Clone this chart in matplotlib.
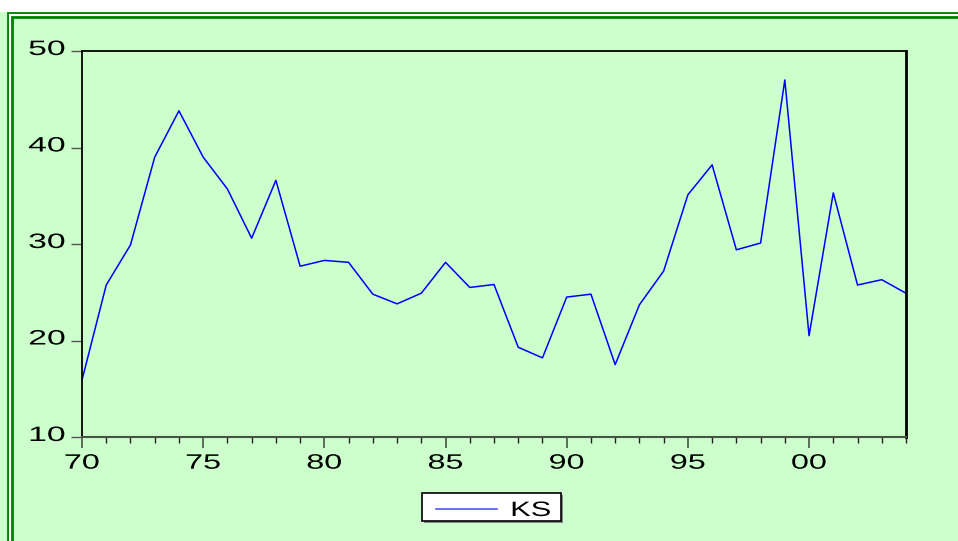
import matplotlib
matplotlib.use("Agg")
import matplotlib.pyplot as plt
from matplotlib.lines import Line2D
from matplotlib.patches import Rectangle
from matplotlib.patheffects import AbstractPathEffect
from matplotlib.transforms import Affine2D

years = list(range(1970, 2005))
ks = [15.9, 25.75, 29.9, 39.0, 43.8, 39.0, 35.7, 30.6, 36.6, 27.7,
      28.3, 28.1, 24.8, 23.8, 24.9, 28.1, 25.5, 25.8, 19.3, 18.2,
      24.5, 24.8, 17.5, 23.7, 27.2, 35.1, 38.2, 29.4, 30.1, 47.0,
      20.5, 35.3, 25.75, 26.3, 24.9]
xticks_major = [1970, 1975, 1980, 1985, 1990, 1995, 2000]
xtick_labels = ["70", "75", "80", "85", "90", "95", "00"]
yticks = [10, 20, 30, 40, 50]
series_name = "KS"

BG = "#CCFFCC"
GREEN = "#008000"
W, H = 958, 541
FONT = "Liberation Sans"
FS = 15


class HStretch(AbstractPathEffect):
    """Stretch rendered text horizontally (the reference font is wide)."""
    def __init__(self, sx=1.6, anchor="center", dy=0.0):
        super().__init__()
        self.sx, self.anchor, self.dy = sx, anchor, dy

    def draw_path(self, renderer, gc, tpath, affine, rgbFace=None):
        ext = tpath.get_extents(affine)
        if self.anchor == "right":
            cx = ext.x1
        elif self.anchor == "left":
            cx = ext.x0
        else:
            cx = 0.5 * (ext.x0 + ext.x1)
        t = affine + Affine2D().translate(-cx, 0).scale(self.sx, 1).translate(cx, self.dy)
        renderer.draw_path(gc, tpath, t, rgbFace)


fig = plt.figure(figsize=(W / 100, H / 100), dpi=100, facecolor=BG)


def fx(px): return px / W
def fy(py): return 1 - py / H


# white strip at top
fig.add_artist(Rectangle((0, fy(12)), 1, 12 / H, transform=fig.transFigure,
                         facecolor="white", edgecolor="none", zorder=0))
# double green border with white gap
fig.add_artist(Rectangle((fx(8), fy(600)), fx(1100), fy(13) - fy(600), transform=fig.transFigure,
                         facecolor="none", edgecolor=GREEN, lw=2.0, zorder=1))
fig.add_artist(Rectangle((fx(10), fy(600)), fx(1100), fy(15) - fy(600), transform=fig.transFigure,
                         facecolor="none", edgecolor="white", lw=1.5, zorder=1))
fig.add_artist(Rectangle((fx(12), fy(600)), fx(1100), fy(17) - fy(600), transform=fig.transFigure,
                         facecolor="none", edgecolor=GREEN, lw=2.0, zorder=1))

ax = fig.add_axes([fx(82), fy(437), (906 - 82) / W, (437 - 51) / H])
ax.set_facecolor(BG)
ax.plot(years, ks, color="#0000FF", lw=1.1, label=series_name)
ax.set_xlim(1970, 2004)
ax.set_ylim(10, 50)

ax.set_yticks(yticks)
ax.set_yticklabels([str(v) for v in yticks])
ax.set_xticks(xticks_major)
ax.set_xticklabels(xtick_labels)
ax.set_xticks(years, minor=True)

for lab in ax.get_yticklabels():
    lab.set_fontfamily(FONT)
    lab.set_fontsize(FS)
    lab.set_path_effects([HStretch(1.62, "right", dy=3.5)])
for lab in ax.get_xticklabels():
    lab.set_fontfamily(FONT)
    lab.set_fontsize(FS)
    lab.set_path_effects([HStretch(1.55, "center")])

ax.tick_params(axis="y", direction="out", length=8, width=1, color="#555555", pad=4)
ax.tick_params(axis="x", which="major", direction="out", length=8, width=1.2, color="#445544", pad=4)
ax.tick_params(axis="x", which="minor", direction="out", length=4.5, width=1, color="#222222")

for s in ["left", "top"]:
    ax.spines[s].set_color("black")
    ax.spines[s].set_linewidth(1.3)
ax.spines["right"].set_color("black")
ax.spines["right"].set_linewidth(2)
ax.spines["bottom"].set_color("#445544")
ax.spines["bottom"].set_linewidth(1.5)

# legend box (built by hand so the wide text fits)
fig.add_artist(Rectangle((fx(424), fy(523)), fx(561) - fx(422), fy(493) - fy(521),
                         transform=fig.transFigure, facecolor="#888888", edgecolor="none", zorder=5))
fig.add_artist(Rectangle((fx(422), fy(521)), fx(561) - fx(422), fy(493) - fy(521),
                         transform=fig.transFigure, facecolor="white", edgecolor="black",
                         lw=1.2, zorder=6))
fig.add_artist(Line2D([fx(436), fx(497)], [fy(509), fy(509)], transform=fig.transFigure,
                      color="#4444FF", lw=1.1, zorder=7))
fig.text(fx(511), fy(516), series_name, ha="left", va="baseline", family=FONT, fontsize=FS,
         color="black", zorder=7, path_effects=[HStretch(1.48, "left")])

fig.savefig("out.png", dpi=100, facecolor=BG)
